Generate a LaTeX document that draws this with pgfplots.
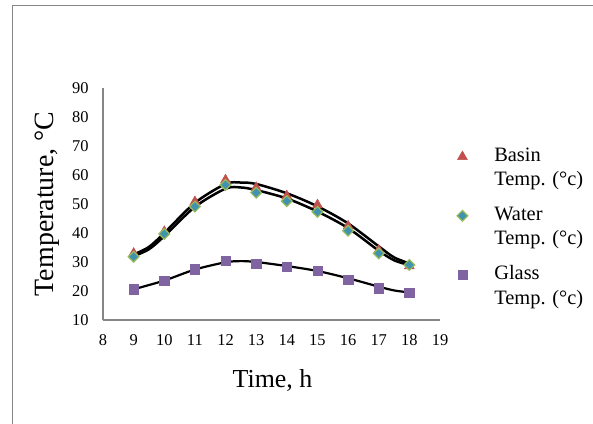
\documentclass[border=0pt]{standalone}
\usepackage{fontspec}
\setmainfont{Liberation Serif}
\usepackage{pgfplots}
\pgfplotsset{compat=1.18}

\definecolor{basin}{HTML}{C0504D}
\definecolor{waterfill}{HTML}{3F93AE}
\definecolor{wateredge}{HTML}{9BBB59}
\definecolor{glass}{HTML}{8064A2}
\definecolor{axgray}{HTML}{868686}

\newcommand{\leg}[1]{\begin{tabular}[t]{@{}l@{}}#1\\Temp. (°c)\end{tabular}}

\begin{document}
\begin{tikzpicture}
\useasboundingbox (0,0) rectangle (593bp,424bp);
\draw[axgray, line width=1bp] (12bp,-2bp) -- (12bp,418bp) -- (596bp,418bp);
\begin{axis}[
  at={(103bp,104bp)}, anchor=south west,
  scale only axis, width=337bp, height=232bp,
  xmin=8, xmax=19, ymin=10, ymax=90,
  xtick={8,...,19}, ytick={10,20,...,90},
  axis lines*=left,
  axis line style={axgray, line width=1.5bp},
  major tick length=0pt,
  /pgf/number format/assume math mode=true,
  tick label style={font=\fontsize{16.5}{19}\selectfont},
  xticklabel style={yshift=-11.5bp},
  yticklabel style={xshift=-11bp},
  xlabel={Time, h},
  ylabel={Temperature, °C},
  xlabel style={font=\fontsize{26}{30}\selectfont, at={(axis description cs:0.503,-0.289)}, anchor=base},
  ylabel style={font=\fontsize{28}{32}\selectfont, at={(axis description cs:-0.147,0.5)}, anchor=base},
  legend style={at={(axis description cs:1.050,0.758)}, anchor=north west,
    draw=none, fill=none, inner sep=0pt, row sep=40.5bp,
    nodes={inner sep=0pt}, cells={anchor=base west},
    font=\fontsize{20.5}{24.5}\selectfont,
    /tikz/every odd column/.append style={column sep=26.5bp}},
  legend image code/.code={\draw[#1, only marks] plot coordinates {(0bp,4.7bp)};},
]
% measured points
\addplot[only marks, mark=triangle*, mark size=5.8bp, mark options={fill=basin, draw=basin}]
  coordinates {(9,33.0) (10,40.5) (11,50.8) (12,58.3) (13,55.7) (14,52.8) (15,49.7) (16,42.4) (17,34.1) (18,28.6)};
\addlegendentry{\leg{Basin}}
\addplot[only marks, mark=square*, mark size=3.8bp, mark options={rotate=45, fill=waterfill, draw=wateredge, line width=1.2bp}]
  coordinates {(9,31.8) (10,39.7) (11,49.1) (12,56.6) (13,53.9) (14,51.0) (15,47.3) (16,40.8) (17,33.0) (18,29.0)};
\addlegendentry{\leg{Water}}
\addplot[only marks, mark=square*, mark size=4.7bp, mark options={fill=glass, draw=glass}]
  coordinates {(9,20.6) (10,23.6) (11,27.5) (12,30.5) (13,29.5) (14,28.4) (15,27.0) (16,24.0) (17,20.9) (18,19.4)};
\addlegendentry{\leg{Glass}}
% trend lines
\addplot[forget plot, smooth, black, line width=2.5bp, no markers]
  coordinates {(9,32.6) (9.5,35.2) (10,40.0) (11,50.4) (12,56.9) (12.5,57.4) (13,56.9) (14,53.7) (15,49.2) (16,43.3) (17,35.4) (17.5,31.6) (18,29.5)};
\addplot[forget plot, smooth, black, line width=2.5bp, no markers]
  coordinates {(9,32.0) (9.5,34.4) (10,38.9) (11,49.0) (12,55.3) (12.5,55.7) (13,54.8) (14,51.9) (15,47.4) (16,41.7) (17,33.9) (17.5,30.6) (18,28.9)};
\addplot[forget plot, smooth, black, line width=2.2bp, no markers]
  coordinates {(9,20.6) (10,23.6) (11,27.4) (12,29.9) (12.5,30.3) (13,30.0) (14,28.6) (15,26.9) (16,24.4) (17,21.5) (17.5,20.2) (18,19.5)};
\end{axis}
\end{tikzpicture}
\end{document}
